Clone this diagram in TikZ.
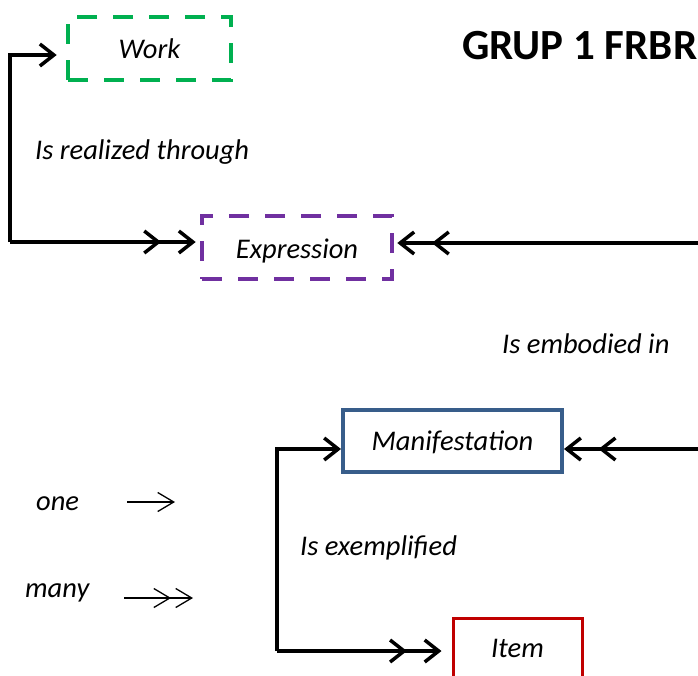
\documentclass[tikz,border=0pt]{standalone}
\usepackage{fontspec}
\setmainfont{Carlito}
\usetikzlibrary{arrows.meta}
\definecolor{workgreen}{RGB}{0,176,80}
\definecolor{exprpurple}{RGB}{112,48,160}
\definecolor{manifblue}{RGB}{56,93,138}
\definecolor{itemred}{RGB}{192,0,0}
\tikzset{
  entity/.style={draw, line width=4pt, inner sep=0pt, align=center,
    text height=24pt, text depth=5pt,
    font=\fontsize{28.5}{33}\selectfont\itshape},
  dashbox/.style={entity, line width=4.6pt, dash pattern=on 20pt off 16pt},
  label/.style={inner sep=0pt, anchor=base west, font=\fontsize{28.5}{33}\selectfont\itshape},
  link/.style={line width=3.5pt},
  onehead/.style={-{Straight Barb[length=14pt,width=22pt]}},
  twoheads/.style={-{Straight Barb[length=14pt,width=22pt,sep=16pt]Straight Barb[length=14pt,width=22pt]}},
  thinone/.style={line width=1.3pt,-{Straight Barb[length=16pt,width=19pt]}},
  thintwo/.style={line width=1.3pt,-{Straight Barb[length=16pt,width=19pt,sep=4pt]Straight Barb[length=16pt,width=19pt]}},
}
\begin{document}
\begin{tikzpicture}[x=1pt,y=-1pt]
\useasboundingbox (0,0) rectangle (698,675);

% entities
\node[dashbox, workgreen, minimum width=163pt, minimum height=63pt] (work) at (149.5,48.5) {\textcolor{black}{Work}};
\node[dashbox, exprpurple, minimum width=190pt, minimum height=63pt, text depth=3pt] (expr) at (297,247.5) {\textcolor{black}{Expression}};
\node[entity, manifblue, minimum width=219pt, minimum height=62pt] (manif) at (452.5,440.5) {\textcolor{black}{Manifestation}};
\node[entity, itemred, line width=3pt, minimum width=129pt, minimum height=62pt, text depth=7pt] (item) at (517.5,649) {\textcolor{black}{Item}};

% title and relationship labels
\node[inner sep=0pt, anchor=base west, font=\fontsize{43}{49}\selectfont\bfseries] (title) at (462,59) {GRUP 1 FRBR};
\node[label] (realized) at (35,159) {Is realized through};
\node[label] (embodied) at (502,353) {Is embodied in};
\node[label] (exemplified) at (300,555) {Is exemplified};

% legend
\node[label] (one) at (36,510) {one};
\node[label] (many) at (25,597) {many};
\coordinate (oneA) at (127,502);
\coordinate (oneB) at (175,502);
\coordinate (manyA) at (124,598);
\coordinate (manyB) at (193,598);
\draw[thinone] (oneA) -- (oneB);
\draw[thintwo] (manyA) -- (manyB);

% work -> expression loop on the left
\coordinate (leftcorner) at (10,242);
\coordinate (workTip) at ([shift={(-9pt,-6.5pt)}]work.west);
\coordinate (exprTipL) at ([shift={(-4pt,5.5pt)}]expr.west);
\draw[link, onehead] (leftcorner) |- (workTip);
\draw[link, twoheads] (leftcorner) -- (exprTipL);

% incoming from the right
\coordinate (rightE) at (698,243);
\coordinate (exprTipR) at ([shift={(3pt,4.5pt)}]expr.east);
\draw[link, twoheads] (rightE) -- (exprTipR);
\coordinate (rightM) at (698,449);
\draw[link, twoheads] (rightM) -- (manif.east |- rightM);

% manifestation <-> item loop
\coordinate (midcorner) at (277,651);
\coordinate (manifIn) at (manif.west |- 0,449);
\coordinate (itemTip) at ([xshift=-10pt]item.west |- midcorner);
\draw[link, onehead] (midcorner) |- (manifIn);
\draw[link, twoheads] (midcorner) -- (itemTip);
\end{tikzpicture}
\end{document}
